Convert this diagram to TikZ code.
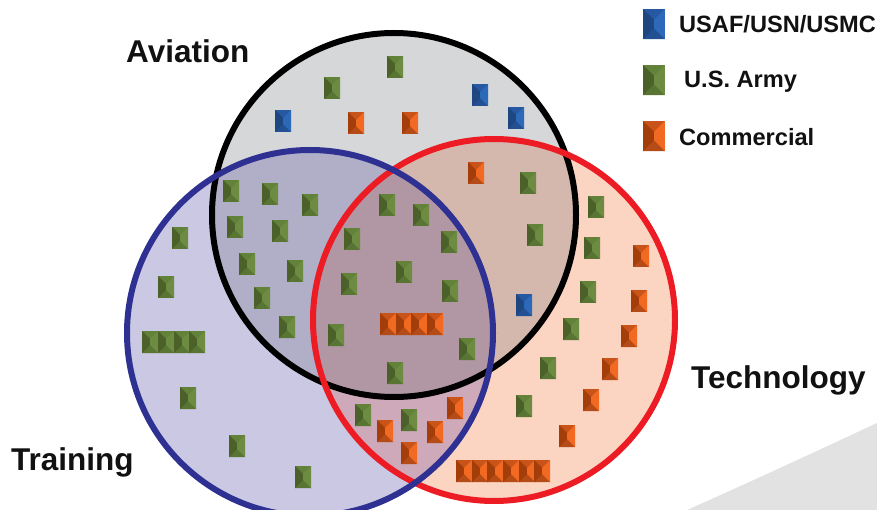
\documentclass[tikz,border=0pt]{standalone}
\usepackage{fontspec}
\setmainfont{Liberation Sans}
\definecolor{g1}{HTML}{4B6129}
\definecolor{g2}{HTML}{62823A}
\definecolor{g3}{HTML}{6E8B42}
\definecolor{b1}{HTML}{1E4781}
\definecolor{b2}{HTML}{2759A3}
\definecolor{b3}{HTML}{2C69B8}
\definecolor{o1}{HTML}{A33D0A}
\definecolor{o2}{HTML}{C95419}
\definecolor{o3}{HTML}{F26A22}
\definecolor{cA}{HTML}{D6D7D9}
\definecolor{cT}{HTML}{CAC8E2}
\definecolor{cE}{HTML}{FCD4C2}
\definecolor{cAT}{HTML}{B0AFC7}
\definecolor{cAE}{HTML}{D4B8AD}
\definecolor{cTE}{HTML}{CDA9B9}
\definecolor{cATE}{HTML}{B197A4}
\definecolor{lnblue}{HTML}{2E3192}
\definecolor{lnred}{HTML}{ED1C24}
\definecolor{bggray}{HTML}{E2E2E2}
\definecolor{txt}{HTML}{111111}
\begin{document}
\begin{tikzpicture}[x=1bp,y=-1bp,
  mk/.pic={
    \fill[#12] (-8,-11) rectangle (8,11);
    \fill[#12!90!black] (-8,11) -- (8,11) -- (0,3) -- cycle;
    \fill[#11] (-8,-11) -- (0,-3) -- (0,3) -- (-8,11) -- cycle;
    \fill[#13] (8,-11) -- (0,-3) -- (0,3) -- (8,11) -- cycle;
  },
  circlabel/.style={anchor=base west,inner sep=0,text=txt,font=\fontsize{31.5bp}{38bp}\selectfont\bfseries},
  leglabel/.style={anchor=base west,inner sep=0,text=txt,font=\fontsize{23.6bp}{28bp}\selectfont\bfseries},
  ring/.style={line width=6bp}]
\useasboundingbox (0,0) rectangle (877,510);
\fill[white] (0,0) rectangle (877,510);
\fill[bggray] (687,510) .. controls (750,482) and (815,452) .. (877,423) -- (877,510) -- cycle;
% region fills
\fill[cA] (394,215) circle (182);
\fill[cT] (310,333) circle (183);
\fill[cE] (494,320) circle (181);
\begin{scope}
  \clip (394,215) circle (182);
  \fill[cAT] (310,333) circle (183);
  \fill[cAE] (494,320) circle (181);
\end{scope}
\begin{scope}
  \clip (310,333) circle (183);
  \fill[cTE] (494,320) circle (181);
\end{scope}
\begin{scope}
  \clip (394,215) circle (182);
  \clip (310,333) circle (183);
  \fill[cATE] (494,320) circle (181);
\end{scope}
% rings
\draw[ring,black] (394,215) circle (182);
\draw[ring,lnred] (494,320) circle (181);
\draw[ring,lnblue] (310,333) circle (183);
% markers: green
\foreach \x/\y in {395/67,332/88,
  231/191,270/194,310/205,235/227,280/231,247/264,295/271,262/298,287/327,
  180/238,166/287,150/342,166/342,182/342,197/342,188/398,237/446,303/477,
  387/205,421/215,352/239,449/242,404/272,349/284,450/291,336/335,467/349,395/373,
  528/183,535/235,
  596/207,592/248,588/292,571/329,548/368,524/406,
  363/415,409/420}
  \pic at (\x,\y) {mk=g};
% markers: blue
\foreach \x/\y in {283/121,480/95,516/118,524/305}
  \pic at (\x,\y) {mk=b};
% markers: orange
\foreach \x/\y in {356/123,410/123,
  388/324,404/324,419/324,435/324,
  476/173,
  641/256,639/301,629/336,610/369,591/400,567/436,
  464/471,480/471,495/471,511/471,527/471,542/471,
  385/431,435/432,455/408,409/453}
  \pic at (\x,\y) {mk=o};
% circle labels
\node[circlabel] (aviation) at (126,63) {Aviation};
\node[circlabel] (training) at (11,470) {Training};
\node[circlabel] (technology) at (691,388) {Technology};
% legend
\pic[scale=1.37] at (654,24) {mk=b};
\pic[scale=1.37] at (654,80) {mk=g};
\pic[scale=1.37] at (654,136) {mk=o};
\node[leglabel] (legusaf) at (679,33) {USAF/USN/USMC};
\node[leglabel] (legarmy) at (684,88) {U.S. Army};
\node[leglabel] (legcomm) at (679,146) {Commercial};
\end{tikzpicture}
\end{document}
